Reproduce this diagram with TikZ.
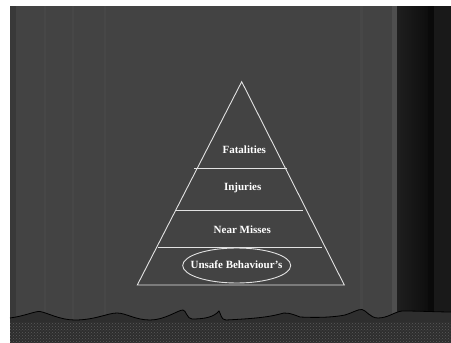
\documentclass[tikz,border=0pt]{standalone}
\usepackage{fontspec}
\setmainfont{Liberation Serif}
\usetikzlibrary{patterns}
\definecolor{bgmain}{HTML}{434343}
\definecolor{bgleft}{HTML}{393939}
\definecolor{stripe}{HTML}{474747}
\definecolor{linegray}{HTML}{E2E2E2}
\definecolor{floor}{HTML}{2E2E2E}
\tikzset{
  tier/.style={draw=linegray, line width=0.9pt},
  label/.style={text=white, font=\fontsize{11}{13}\selectfont\bfseries, inner sep=1pt},
}
\begin{document}
\begin{tikzpicture}[x=1pt,y=-1pt]
\useasboundingbox (0,0) rectangle (451,343);
\fill[white] (0,0) rectangle (451,343);
% background curtain
\fill[bgmain] (10,6) rectangle (451,343);
\fill[bgleft] (10,6) rectangle (16,343);
\fill[stripe] (44,6) rectangle (46,343);
\fill[stripe] (72,6) rectangle (74,343);
\fill[stripe] (104,6) rectangle (106,343);
\fill[stripe] (360,6) rectangle (363,343);
\fill[black!69] (392,6) rectangle (397,343);
% right dark panel
\shade[left color=black!88, right color=black!95] (397,6) rectangle (430,343);
\fill[black!96] (428,6) rectangle (434,343);
\fill[black!90] (434,6) rectangle (451,343);
% floor
\fill[floor] (10,318) .. controls (25,316) and (35,311) .. (40,311.5)
  .. controls (48,313) and (60,320) .. (75,320)
  .. controls (95,320) and (108,313) .. (117,313)
  .. controls (126,313) and (135,320) .. (150,320)
  .. controls (165,320) and (178,310) .. (183,310)
  .. controls (186,310) and (187,319) .. (192,319)
  .. controls (205,319) and (214,317) .. (219,311)
  .. controls (221,314) and (221,320) .. (226,320)
  .. controls (245,319) and (265,318) .. (280,314)
  .. controls (285,312) and (290,313) .. (300,317)
  .. controls (320,318) and (335,317) .. (345,315)
  .. controls (352,313) and (358,309) .. (362,309.5)
  .. controls (366,310) and (370,318) .. (378,318)
  .. controls (388,318) and (394,312) .. (402,311)
  .. controls (420,311) and (440,312) .. (451,312)
  -- (451,343) -- (10,343) -- cycle;
\fill[pattern=crosshatch dots, pattern color=black!65] (10,322) rectangle (451,343);
\draw[black, line width=0.8pt] (10,318) .. controls (25,316) and (35,311) .. (40,311.5)
  .. controls (48,313) and (60,320) .. (75,320)
  .. controls (95,320) and (108,313) .. (117,313)
  .. controls (126,313) and (135,320) .. (150,320)
  .. controls (165,320) and (178,310) .. (183,310)
  .. controls (186,310) and (187,319) .. (192,319)
  .. controls (205,319) and (214,317) .. (219,311)
  .. controls (221,314) and (221,320) .. (226,320)
  .. controls (245,319) and (265,318) .. (280,314)
  .. controls (285,312) and (290,313) .. (300,317)
  .. controls (320,318) and (335,317) .. (345,315)
  .. controls (352,313) and (358,309) .. (362,309.5)
  .. controls (366,310) and (370,318) .. (378,318)
  .. controls (388,318) and (394,312) .. (402,311)
  .. controls (420,311) and (440,312) .. (451,312);
% pyramid
\coordinate (apex) at (241.7,81.7);
\coordinate (bl) at (137.3,285);
\coordinate (br) at (344.3,285);
\draw[tier, line join=miter] (bl) -- (apex) -- (br) -- cycle;
\coordinate (l1a) at (194.3,168.3); \coordinate (l1b) at (286.7,168.3);
\coordinate (l2a) at (176,210);   \coordinate (l2b) at (303.3,210);
\coordinate (l3a) at (158,247.3); \coordinate (l3b) at (322,247.3);
\draw[tier] (l1a) -- (l1b);
\draw[tier] (l2a) -- (l2b);
\draw[tier] (l3a) -- (l3b);
\node[label] (fat) at (244.3,150) {Fatalities};
\node[label] (inj) at (242.7,188.3) {Injuries};
\node[label] (near) at (242.3,229.3) {Near Misses};
\node[label] (unsafe) at (236.5,265) {Unsafe Behaviour’s};
\draw[tier] (236.7,265.5) ellipse [x radius=54, y radius=17.5];
\end{tikzpicture}
\end{document}
